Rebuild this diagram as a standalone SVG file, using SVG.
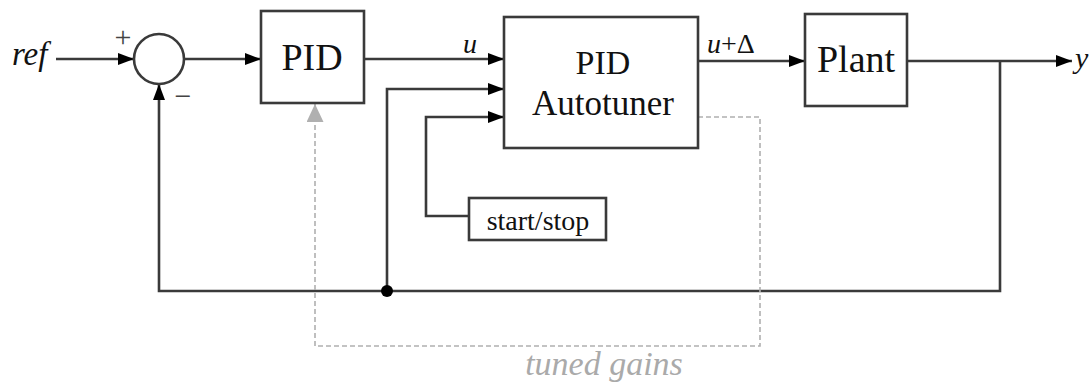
<svg xmlns="http://www.w3.org/2000/svg" width="1089" height="385" viewBox="0 0 1089 385">
<style>
.blk{fill:#fff;stroke:#3a3a3a;stroke-width:2.6}
.wire{fill:none;stroke:#3a3a3a;stroke-width:2.6}
.dash{fill:none;stroke:#b0b0b0;stroke-width:1.6;stroke-dasharray:5,3}
.t{font-family:"Liberation Serif","Times New Roman",serif;fill:#111}
.it{font-family:"Liberation Serif","Times New Roman",serif;font-style:italic;fill:#111}
</style>
<defs>
<marker id="arr" markerUnits="userSpaceOnUse" markerWidth="16" markerHeight="12" refX="16" refY="6" orient="auto">
<path d="M0,0 L16,6 L0,12 z" fill="#000"/>
</marker>
<marker id="garr" markerUnits="userSpaceOnUse" markerWidth="18" markerHeight="17" refX="18" refY="8.5" orient="auto">
<path d="M0,0 L18,8.5 L0,17 z" fill="#b0b0b0"/>
</marker>
</defs>
<g id="connectors">
<line class="wire" x1="56" y1="59" x2="134" y2="59" marker-end="url(#arr)"/>
<line class="wire" x1="184" y1="59" x2="261" y2="59" marker-end="url(#arr)"/>
<line class="wire" x1="364" y1="59" x2="504" y2="59" marker-end="url(#arr)"/>
<path class="wire" d="M1000,61 V291 H159 V84" marker-end="url(#arr)"/>
<path class="wire" d="M387,291 V89 H504" marker-end="url(#arr)"/>
<path class="wire" d="M469,216 H426 V117 H504" marker-end="url(#arr)"/>
<line class="wire" x1="698" y1="61" x2="805" y2="61" marker-end="url(#arr)"/>
<line class="wire" x1="907" y1="61" x2="1072" y2="61" marker-end="url(#arr)"/>
<path class="dash" d="M698,117 H760 V346 H315 V104" marker-end="url(#garr)"/>
<circle cx="387" cy="291" r="6" fill="#000"/>
<text class="it" x="470" y="53" font-size="28" text-anchor="middle">u</text>
<text class="it" x="707" y="53" font-size="28">u<tspan font-style="normal">+Δ</tspan></text>
<text class="t" x="123" y="47" font-size="30" text-anchor="middle" style="fill:#444">+</text>
<text class="t" x="183" y="106" font-size="30" text-anchor="middle" style="fill:#444">−</text>
</g>
<g id="ref"><text class="it" x="12" y="65" font-size="33">ref</text></g>
<g id="y"><text class="it" x="1075" y="68" font-size="30">y</text></g>
<g id="sum"><circle cx="159" cy="59" r="25" class="blk"/></g>
<g id="pid"><rect x="261" y="11" width="103" height="92" class="blk"/><text class="t" x="312" y="70" font-size="38" text-anchor="middle">PID</text></g>
<g id="autotuner"><rect x="504" y="17" width="194" height="131" class="blk"/><text class="t" x="603" y="74" font-size="34" text-anchor="middle">PID</text><text class="t" x="603" y="115" font-size="35" text-anchor="middle">Autotuner</text></g>
<g id="plant"><rect x="805" y="14" width="102" height="92" class="blk"/><text class="t" x="856" y="72" font-size="38" text-anchor="middle">Plant</text></g>
<g id="startstop"><rect x="469" y="198" width="137" height="42" class="blk"/><text class="t" x="538" y="230" font-size="28" text-anchor="middle">start/stop</text></g>
<g id="tuned"><text class="it" x="604" y="375" font-size="34" text-anchor="middle" style="fill:#aaa">tuned gains</text></g>
</svg>
